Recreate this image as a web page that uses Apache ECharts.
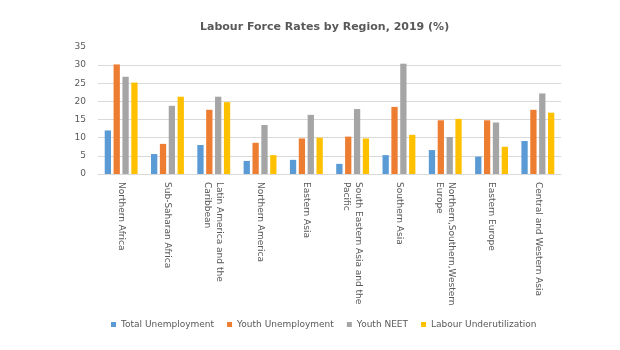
<!DOCTYPE html>
<html>
<head>
    <meta charset="utf-8">
    <title>Labour Force Rates by Region</title>
    <script src="https://cdn.jsdelivr.net/npm/echarts@6/dist/echarts.min.js"></script>
</head>
<body style="margin:0">
    <div id='main' style='width:620px;height:350px;'></div>
    <script>
        // region names and the four series (%)
        var regions = ['Northern Africa', 'Sub-Saharan Africa', 'Latin America and the Caribbean',
            'Northern America', 'Eastern Asia', 'South Eastern Asia and the Pacific', 'Southern Asia',
            'Northern,Southern,Western Europe', 'Eastern Europe', 'Central and Western Asia'];
        var totalUnemployment = [12.0, 5.5, 8.0, 3.6, 3.9, 2.8, 5.2, 6.6, 4.8, 9.1];
        var youthUnemployment = [30.2, 8.3, 17.7, 8.6, 9.8, 10.3, 18.5, 14.8, 14.8, 17.7];
        var youthNeet = [26.8, 18.8, 21.3, 13.5, 16.3, 17.9, 30.4, 10.2, 14.2, 22.2];
        var labourUnderutilization = [25.2, 21.3, 19.8, 5.2, 10.0, 9.8, 10.8, 15.2, 7.5, 16.9];
        var seriesNames = ['Total Unemployment', 'Youth Unemployment', 'Youth NEET', 'Labour Underutilization'];
        var colors = ['#5B9BD5', '#ED7D31', '#A5A5A5', '#FFC000'];

        var myChart = echarts.init(document.getElementById('main'));
        var values = [totalUnemployment, youthUnemployment, youthNeet, labourUnderutilization];

        myChart.setOption({
            animation: false,
            color: colors,
            title: {
                text: 'Labour Force Rates by Region, 2019 (%)',
                left: 195,
                top: 17,
                textStyle: { fontFamily: 'DejaVu Sans', fontSize: 11, fontWeight: 'bold', color: '#595959' }
            },
            legend: {
                top: 315,
                left: 106,
                itemWidth: 5,
                itemHeight: 5,
                itemGap: 13,
                icon: 'rect',
                textStyle: { fontFamily: 'DejaVu Sans', fontSize: 9, color: '#595959' },
                data: seriesNames
            },
            grid: { left: 98, right: 59, top: 47, bottom: 176 },
            xAxis: {
                type: 'category',
                data: regions,
                axisLine: { lineStyle: { color: '#D9D9D9' } },
                axisTick: { show: false },
                axisLabel: {
                    rotate: -90,
                    interval: 0,
                    margin: 8,
                    fontFamily: 'DejaVu Sans',
                    fontSize: 9,
                    color: '#595959',
                    width: 136,
                    overflow: 'break',
                    lineHeight: 12
                }
            },
            yAxis: {
                type: 'value',
                min: 0,
                max: 35,
                interval: 5,
                axisLabel: { fontFamily: 'DejaVu Sans', fontSize: 9, color: '#595959', margin: 12 },
                splitLine: { showMaxLine: false, lineStyle: { color: '#D9D9D9' } }
            },
            series: seriesNames.map(function (name, i) {
                return {
                    name: name,
                    type: 'bar',
                    data: values[i],
                    barGap: '41%',
                    barCategoryGap: '29%'
                };
            })
        });
    </script>
</body>
</html>
